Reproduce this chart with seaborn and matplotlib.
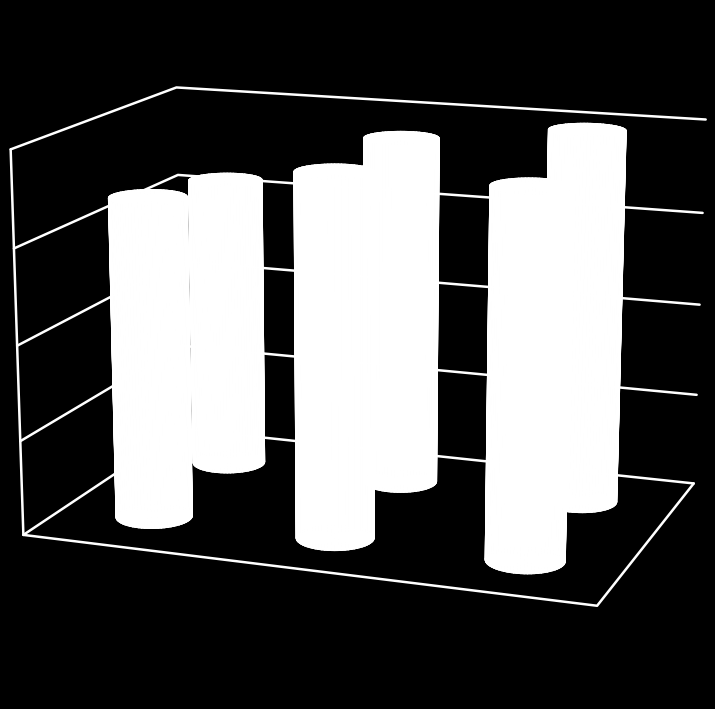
import numpy as np
import matplotlib
matplotlib.use('Agg')
import matplotlib.pyplot as plt
import seaborn as sns

# values
categories = [0.5, 1.5, 2.5]
series_pos = [0.5, 1.5]
front_values = [3.395, 3.795, 3.79]
back_values = [3.195, 3.785, 3.995]
z_ticks = [0, 1, 2, 3, 4]

# camera fitted to the frame corners of the reference
ELEV, AZIM, ROLL = 14.35, -70.21, -0.06
FOCAL = 0.630
BOX = (1, 0.666, 0.661)
PX_SCALE, PX_X, PX_Y = 4205.9, 368.87, 384.44
RADIUS = 0.197
LW = 1.8

sns.set_theme(style='dark', rc={'figure.facecolor': 'black', 'axes.facecolor': 'black', 'savefig.facecolor': 'black'})
W, H = 715, 709

fig = plt.figure(figsize=(W / 100, H / 100), dpi=100)
ax = fig.add_axes([0, 0, 1, 1], projection='3d')
ax.set_proj_type('persp', focal_length=FOCAL)
ax.view_init(elev=ELEV, azim=AZIM, roll=ROLL)
ax.set_box_aspect(BOX)

# place the axes so projected points land on the reference pixels
x0, x1 = ax.viewLim.intervalx
y0, y1 = ax.viewLim.intervaly
ax.set_position([(PX_X + PX_SCALE * x0) / W, (PX_Y + PX_SCALE * y0) / H,
                 PX_SCALE * (x1 - x0) / W, PX_SCALE * (y1 - y0) / H])
ax.set_axis_off()

x_max = len(categories)
y_max = len(series_pos)

# walls and floor
ax.plot([0, 0], [0, 0], [z_ticks[0], z_ticks[-1]], color='white', lw=LW)
for z in z_ticks:
    ax.plot([0, 0, x_max], [0, y_max, y_max], [z, z, z], color='white', lw=LW)
ax.plot([0, x_max, x_max], [0, 0, y_max], [0, 0, 0], color='white', lw=LW)


def draw_cylinder(cx, cy, height):
    theta = np.linspace(0, 2 * np.pi, 73)
    zz = np.array([0, height])
    t, z = np.meshgrid(theta, zz)
    ax.plot_surface(cx + RADIUS * np.cos(t), cy + RADIUS * np.sin(t), z, color='white', shade=False,
                    rcount=2, ccount=73, linewidth=0.8, edgecolor='white')
    # bottom and top caps
    r = np.array([0, RADIUS])
    t, rr = np.meshgrid(theta, r)
    for level in zz:
        ax.plot_surface(cx + rr * np.cos(t), cy + rr * np.sin(t), np.full_like(t, level), color='white',
                        shade=False, rcount=2, ccount=73, linewidth=0.8, edgecolor='white')


for values, y in zip([back_values, front_values], series_pos[::-1]):
    for x, v in zip(categories, values):
        draw_cylinder(x, y, v)

ax.set_xlim(0, x_max)
ax.set_ylim(0, y_max)
ax.set_zlim(z_ticks[0], z_ticks[-1])

fig.savefig('out.png', dpi=100)
